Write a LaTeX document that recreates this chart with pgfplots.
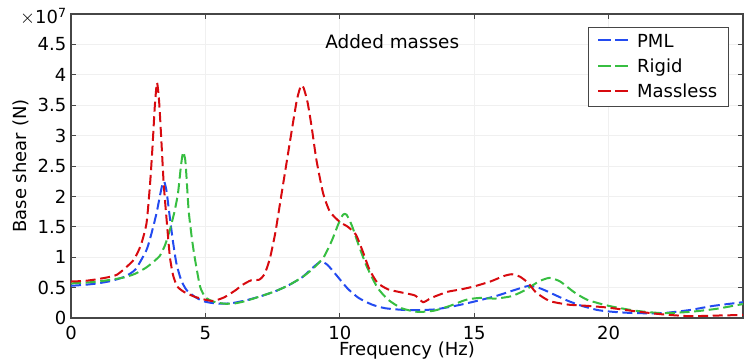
\documentclass[border=0pt]{standalone}
\usepackage{pgfplots}
\pgfplotsset{compat=1.18}
\usepackage{fontspec}
\setmainfont{DejaVu Sans}
\definecolor{cblue}{RGB}{35,75,240}
\definecolor{cgreen}{RGB}{55,190,65}
\definecolor{cred}{RGB}{215,10,15}
\definecolor{axgray}{RGB}{70,70,70}
\newcommand{\legline}[1]{{\color{#1}\rule[0.32em]{9.5pt}{1.45pt}\hspace{3pt}\rule[0.32em]{9.5pt}{1.45pt}}\hspace{7pt}}
\begin{document}
\begin{tikzpicture}
\begin{axis}[
  name=ax,
  scale only axis,
  width=504pt, height=228pt,
  xmin=0, xmax=25, ymin=0, ymax=5,
  font=\fontsize{13.5}{16}\selectfont,
  /pgf/number format/assume math mode=true,
  xtick={0,5,10,15,20},
  xticklabels={0,5,10,15,20},
  ytick={0,0.5,1,1.5,2,2.5,3,3.5,4,4.5},
  yticklabels={0,0.5,1,1.5,2,2.5,3,3.5,4,4.5},
  tick align=inside,
  major tick length=4pt,
  tick style={axgray, line width=0.6pt},
  axis line style={axgray, line width=0.8pt},
  grid=major,
  grid style={gray!12, line width=0.5pt},
  xlabel={Frequency (Hz)},
  ylabel={Base shear (N)},
  xlabel style={yshift=5pt},
  ylabel style={yshift=0pt},
  xticklabel style={yshift=-2.5pt},
  legend style={at={(rel axis cs:0.978,0.957)}, anchor=north east, fill=white, draw=axgray,
     font=\fontsize{13.5}{16}\selectfont, row sep=3.3pt, inner xsep=6pt, inner ysep=3pt, cells={anchor=west}},
  legend image code/.code={},
  every axis plot/.append style={line width=1.5pt, dash pattern=on 7.5pt off 3.5pt},
]
\addplot[draw=cblue, smooth, tension=0.35] coordinates {
(0,0.53) (0.5,0.545) (1,0.57) (1.5,0.61) (2,0.68) (2.4,0.8) (2.81,1.12) (3.0,1.4) (3.18,1.72) (3.3,1.99) (3.4,2.2) (3.47,2.24)
(3.55,2.1) (3.65,1.75) (3.78,1.3) (3.92,0.9) (4.1,0.62) (4.3,0.46) (4.6,0.35) (4.9,0.28) (5.2,0.25) (5.6,0.235)
(6.0,0.245) (6.5,0.29) (7.0,0.35) (7.6,0.44) (8.1,0.54) (8.6,0.67) (9.0,0.83) (9.3,0.93) (9.55,0.87) (9.9,0.69)
(10.3,0.48) (10.7,0.33) (11.2,0.22) (11.7,0.16) (12.5,0.13) (13.5,0.14) (14.3,0.2) (15,0.27) (15.8,0.36) (16.5,0.46)
(17.05,0.53) (17.5,0.48) (18.0,0.38) (18.5,0.28) (19.0,0.2) (19.6,0.13) (20.2,0.1) (21,0.08) (22,0.08) (23,0.13)
(23.9,0.2) (25,0.26)
};
\addlegendentry{\legline{cblue}PML}
\addplot[draw=cgreen, smooth, tension=0.35] coordinates {
(0,0.57) (0.5,0.58) (1,0.6) (1.5,0.63) (2,0.67) (2.4,0.73) (2.8,0.83) (3.0,0.9) (3.3,1.02) (3.5,1.2) (3.68,1.45)
(3.85,1.75) (3.98,2.05) (4.09,2.5) (4.17,2.73) (4.25,2.6) (4.3,2.3) (4.38,1.75) (4.5,1.3) (4.6,1.0) (4.8,0.52)
(5.0,0.34) (5.3,0.27) (5.7,0.235) (6.1,0.24) (6.5,0.28) (7.0,0.35) (7.6,0.44) (8.1,0.54) (8.6,0.67) (9.0,0.81)
(9.4,1.0) (9.7,1.27) (9.95,1.55) (10.12,1.7) (10.25,1.7) (10.45,1.52) (10.7,1.2) (11.0,0.85) (11.4,0.5)
(11.8,0.3) (12.3,0.16) (12.9,0.1) (13.5,0.12) (14.1,0.2) (14.7,0.3) (15.2,0.33) (15.8,0.32) (16.4,0.36)
(16.9,0.46) (17.4,0.6) (17.8,0.66) (18.2,0.6) (18.7,0.43) (19.2,0.3) (20,0.2) (21,0.12) (22,0.08) (23,0.1)
(24,0.15) (25,0.23)
};
\addlegendentry{\legline{cgreen}Rigid}
\addplot[draw=cred, smooth, tension=0.35] coordinates {
(0,0.6) (0.5,0.61) (1,0.64) (1.7,0.71) (2.32,0.95) (2.6,1.2) (2.81,1.56) (2.94,2.2) (3.03,2.8) (3.12,3.5)
(3.2,3.87) (3.28,3.55) (3.37,2.85) (3.45,2.2) (3.56,1.6) (3.68,1.0) (3.8,0.7) (3.95,0.52) (4.2,0.43) (4.6,0.35)
(5.0,0.3) (5.3,0.28) (5.7,0.34) (6.1,0.45) (6.4,0.55) (6.7,0.62) (7.0,0.63) (7.2,0.72) (7.4,0.98) (7.6,1.4)
(7.8,1.95) (8.0,2.5) (8.2,3.05) (8.4,3.58) (8.55,3.82) (8.65,3.79) (8.8,3.55) (8.95,3.15) (9.13,2.6) (9.38,2.05)
(9.63,1.75) (10.0,1.58) (10.3,1.5) (10.6,1.37) (10.85,1.1) (11.1,0.8) (11.4,0.58) (11.8,0.47) (12.3,0.42)
(12.8,0.37) (13.1,0.26) (13.4,0.33) (14.0,0.43) (14.5,0.47) (15.0,0.52) (15.6,0.6) (16.1,0.69) (16.4,0.72)
(16.7,0.68) (17.0,0.58) (17.3,0.42) (17.8,0.28) (18.5,0.22) (19.2,0.2) (20,0.17) (21,0.11) (22,0.06) (23,0.03)
(24,0.04) (25,0.05)
};
\addlegendentry{\legline{cred}Massless}
\node[anchor=center, font=\fontsize{13.8}{16}\selectfont] at (axis cs:11.95,4.54) {Added masses};
\end{axis}
\node[anchor=base east, font=\fontsize{13.5}{16}\selectfont, inner sep=0pt] at ([xshift=-3pt,yshift=-7.5pt]ax.north west) {$\times$10\textsuperscript{7}};
\pgfresetboundingbox
\path ([xshift=-53.25pt,yshift=-31.5pt]ax.south west) rectangle ([xshift=0.75pt,yshift=10.5pt]ax.north east);
\end{tikzpicture}
\end{document}
